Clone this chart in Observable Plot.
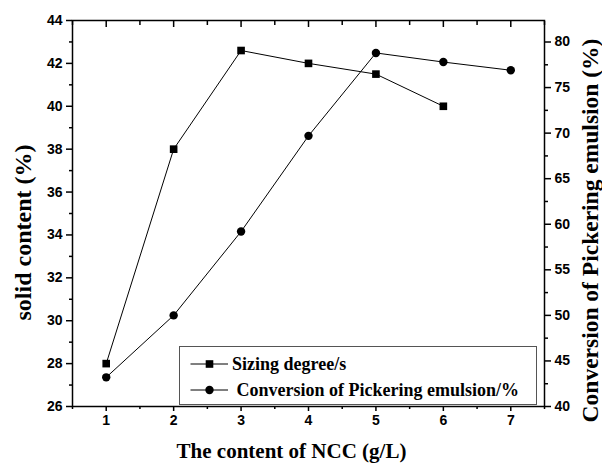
<!DOCTYPE html>
<html>
<head>
<meta charset="utf-8">
<script src="https://cdn.jsdelivr.net/npm/d3@7"></script>
<script src="https://cdn.jsdelivr.net/npm/@observablehq/plot@0.6"></script>
<style>
  html, body { margin: 0; padding: 0; background: #fff; }
  #wrap { position: relative; width: 602px; height: 463px; }
  #wrap svg text { font-weight: bold; }
  #legend {
    position: absolute; left: 179px; top: 346px; width: 358px; height: 59px;
    border: 1px solid #555; background: #fff; box-sizing: border-box;
    font-family: "Liberation Serif", "Times New Roman", serif; font-weight: bold; font-size: 18px;
  }
  #legend .row { position: absolute; left: 0; height: 20px; display: flex; align-items: center; white-space: pre; }
</style>
</head>
<body>
<div id="wrap"></div>
<script>
// ---- data ----
const contents = [1, 2, 3, 4, 5, 6, 7];
const sizingX = [1, 2, 3, 4, 5, 6];
const sizingDegree = [28.0, 38.0, 42.6, 42.0, 41.5, 40.0];
const conversion = [43.2, 50.0, 59.2, 69.7, 78.8, 77.8, 76.9];
const leftTicks = [26, 28, 30, 32, 34, 36, 38, 40, 42, 44];
const rightTicks = [40, 45, 50, 55, 60, 65, 70, 75, 80];
const xTitle = "The content of NCC (g/L)";
const yLeftTitle = "solid content (%)";
const yRightTitle = "Conversion of Pickering emulsion (%)";
const seriesNames = ["Sizing degree/s", " Conversion of Pickering emulsion/%"];

// ---- scales ----
const leftDomain = [26, 44];
const rightDomain = [40, 82.36];
const toLeft = v => leftDomain[0] + (v - rightDomain[0]) * (leftDomain[1] - leftDomain[0]) / (rightDomain[1] - rightDomain[0]);
const fromLeft = v => rightDomain[0] + (v - leftDomain[0]) * (rightDomain[1] - rightDomain[0]) / (leftDomain[1] - leftDomain[0]);

const sizingData = sizingX.map((x, i) => ({x, y: sizingDegree[i]}));
const convData = contents.map((x, i) => ({x, y: toLeft(conversion[i])}));

const xMinor = d3.range(0.5, 7.51, 0.5).filter(v => !Number.isInteger(v));
const leftMinor = d3.range(27, 44, 2);
const rightMinor = d3.range(42.5, 82.36, 5).map(toLeft);

const tickFont = {fontFamily: "Liberation Sans, Arial, sans-serif", fontWeight: "bold", fontSize: 14};
const titleFont = {fontFamily: "Liberation Serif, Times New Roman, serif", fontWeight: "bold"};

const chart = Plot.plot({
  width: 602,
  height: 463,
  marginTop: 20,
  marginBottom: 57,
  marginLeft: 72,
  marginRight: 58,
  style: {fontFamily: "Liberation Sans, Arial, sans-serif", fontWeight: "bold", fontSize: "14px", color: "#000", background: "#fff"},
  x: {domain: [0.5, 7.5]},
  y: {domain: leftDomain},
  marks: [
    // axes: bottom
    Plot.axisX({anchor: "bottom", ticks: contents, tickFormat: d => String(d), tickSize: 5, tickPadding: 4, strokeWidth: 1.5, label: null, ...tickFont}),
    Plot.axisX({anchor: "bottom", ticks: xMinor, tickSize: 3, tickFormat: () => "", strokeWidth: 1.5, label: null}),
    // top (inward)
    Plot.axisX({anchor: "top", ticks: contents, tickSize: -6, tickFormat: () => "", strokeWidth: 1.5, label: null}),
    Plot.axisX({anchor: "top", ticks: xMinor, tickSize: -4, tickFormat: () => "", strokeWidth: 1.5, label: null}),
    // left
    Plot.axisY({anchor: "left", ticks: leftTicks, tickFormat: d => String(d), tickSize: 6, tickPadding: 4, strokeWidth: 1.5, label: null, ...tickFont}),
    Plot.axisY({anchor: "left", ticks: leftMinor, tickSize: 3, tickFormat: () => "", strokeWidth: 1.5, label: null}),
    // right
    Plot.axisY({anchor: "right", ticks: rightTicks.map(toLeft), tickFormat: v => String(Math.round(fromLeft(v))), tickSize: 6, tickPadding: 4, strokeWidth: 1.5, label: null, ...tickFont}),
    Plot.axisY({anchor: "right", ticks: rightMinor, tickSize: 3, tickFormat: () => "", strokeWidth: 1.5, label: null}),
    Plot.frame({stroke: "#000", strokeWidth: 1.5}),
    // series
    Plot.line(sizingData, {x: "x", y: "y", stroke: "#000", strokeWidth: 1}),
    Plot.dot(sizingData, {x: "x", y: "y", symbol: "square", r: 4.3, fill: "#000", stroke: "none"}),
    Plot.line(convData, {x: "x", y: "y", stroke: "#000", strokeWidth: 1}),
    Plot.dot(convData, {x: "x", y: "y", symbol: "circle", r: 4.2, fill: "#000", stroke: "none"}),
    // titles
    Plot.text([xTitle], {text: d => d, frameAnchor: "bottom", dx: -17, dy: 45, textAnchor: "middle", lineAnchor: "middle", fontSize: 21, ...titleFont}),
    Plot.text([yLeftTitle], {text: d => d, frameAnchor: "left", dx: -49, dy: 19, rotate: -90, textAnchor: "middle", lineAnchor: "middle", fontSize: 24, ...titleFont}),
    Plot.text([yRightTitle], {text: d => d, frameAnchor: "right", dx: 46, dy: 17, rotate: -90, textAnchor: "middle", lineAnchor: "middle", fontSize: 23.5, ...titleFont})
  ]
});

const wrap = document.getElementById("wrap");
wrap.appendChild(chart);

// legend
const legend = document.createElement("div");
legend.id = "legend";
const symbols = ["square", "circle"];
seriesNames.forEach((name, i) => {
  const row = document.createElement("div");
  row.className = "row";
  row.style.top = (i === 0 ? 7 : 33) + "px";
  const sym = symbols[i] === "square"
    ? '<rect x="25.7" y="-3.8" width="7.6" height="7.6" fill="#000"/>'
    : '<circle cx="29.5" cy="0" r="4.2" fill="#000"/>';
  row.innerHTML = '<svg width="52" height="20" viewBox="0 -10 52 20" style="display:block">' +
    '<line x1="10.5" x2="48" y1="0" y2="0" stroke="#000" stroke-width="1"/>' + sym + '</svg>';
  const span = document.createElement("span");
  span.textContent = name;
  row.appendChild(span);
  legend.appendChild(row);
});
wrap.appendChild(legend);
</script>
</body>
</html>
